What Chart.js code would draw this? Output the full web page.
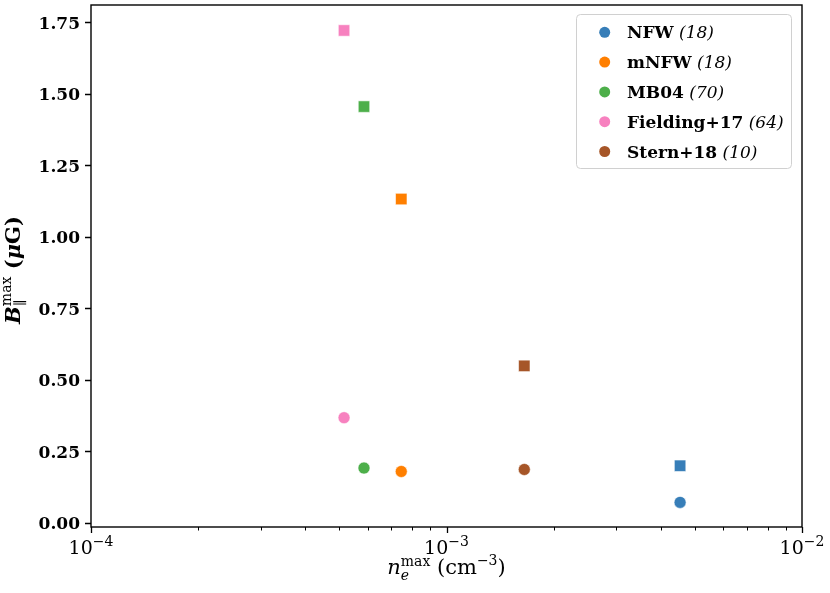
<!DOCTYPE html>
<html>
<head>
<meta charset="utf-8">
<script src="https://cdn.jsdelivr.net/npm/chart.js@4"></script>
<style>
  html, body { margin: 0; padding: 0; background: #fff; }
  #wrap { width: 830px; height: 593px; position: relative; }
</style>
</head>
<body>
<div id="wrap"><canvas id="myChart"></canvas></div>
<script>
// models, halo counts, and the two points per model (circle and square)
var models = ["NFW", "mNFW", "MB04", "Fielding+17", "Stern+18"];
var counts = ["18", "18", "70", "64", "10"];
var neMax = [4.54e-3, 7.46e-4, 5.86e-4, 5.15e-4, 1.655e-3];
var bCircle = [0.072, 0.180, 0.192, 0.368, 0.187];
var bSquare = [0.200, 1.132, 1.455, 1.721, 0.549];
var colors = ["#377eb8", "#ff7f00", "#4daf4a", "#f781bf", "#a65628"];

var yTicks = [0, 0.25, 0.5, 0.75, 1.0, 1.25, 1.5, 1.75];
var xMajor = [1e-4, 1e-3, 1e-2];
var xExp = ["\u22124", "\u22123", "\u22122"];

var SERIF = '"DejaVu Serif", serif';

function drawPieces(ctx, pieces, x, y) {
  // pieces: {t, f, dy} or {stack: [piece, piece]}
  var cx = x;
  pieces.forEach(function (p) {
    if (p.stack) {
      var w = 0;
      p.stack.forEach(function (s) {
        ctx.font = s.f;
        ctx.fillText(s.t, cx, y + s.dy);
        w = Math.max(w, ctx.measureText(s.t).width);
      });
      cx += w;
    } else {
      ctx.font = p.f;
      ctx.fillText(p.t, cx, y + (p.dy || 0));
      cx += ctx.measureText(p.t).width;
    }
  });
  return cx - x;
}

function piecesWidth(ctx, pieces) {
  var w = 0;
  pieces.forEach(function (p) {
    if (p.stack) {
      var m = 0;
      p.stack.forEach(function (s) { ctx.font = s.f; m = Math.max(m, ctx.measureText(s.t).width); });
      w += m;
    } else {
      ctx.font = p.f;
      w += ctx.measureText(p.t).width;
    }
  });
  return w;
}

var decor = {
  id: "decor",
  afterDraw: function (chart) {
    var ctx = chart.ctx;
    var a = chart.chartArea;
    var xs = chart.scales.x, ys = chart.scales.y;
    ctx.save();
    ctx.fillStyle = "#000";
    ctx.strokeStyle = "#000";

    // ticks
    ctx.lineWidth = 1.3;
    ctx.beginPath();
    xMajor.forEach(function (v) {
      var px = Math.round(xs.getPixelForValue(v)) + 0.5;
      ctx.moveTo(px, a.bottom); ctx.lineTo(px, a.bottom + 6);
    });
    yTicks.forEach(function (v) {
      var py = Math.round(ys.getPixelForValue(v)) + 0.5;
      ctx.moveTo(a.left, py); ctx.lineTo(a.left - 6, py);
    });
    ctx.stroke();
    ctx.lineWidth = 1;
    ctx.beginPath();
    [1e-4, 1e-3].forEach(function (d) {
      for (var k = 2; k <= 9; k++) {
        var px = Math.round(xs.getPixelForValue(k * d)) + 0.5;
        ctx.moveTo(px, a.bottom); ctx.lineTo(px, a.bottom + 3.5);
      }
    });
    ctx.stroke();

    // frame
    ctx.lineWidth = 1.4;
    ctx.strokeRect(a.left, a.top, a.right - a.left, a.bottom - a.top);

    // y tick labels
    ctx.font = "bold 17px " + SERIF;
    ctx.textAlign = "right";
    ctx.textBaseline = "alphabetic";
    yTicks.forEach(function (v) {
      ctx.fillText(v.toFixed(2), a.left - 11, ys.getPixelForValue(v) + 6.5);
    });

    // x tick labels 10^n
    ctx.textAlign = "left";
    xMajor.forEach(function (v, i) {
      var p = [{ t: "10", f: "19px " + SERIF }, { t: xExp[i], f: "14px " + SERIF, dy: -8 }];
      var w = piecesWidth(ctx, p);
      drawPieces(ctx, p, xs.getPixelForValue(v) - w / 2, 554);
    });

    // x title
    var xt = [
      { t: "n", f: "italic 21px " + SERIF },
      { stack: [{ t: "max", f: "14px " + SERIF, dy: -8 }, { t: "e", f: "italic 14px " + SERIF, dy: 6 }] },
      { t: " (cm", f: "21px " + SERIF },
      { t: "\u22123", f: "14px " + SERIF, dy: -9 },
      { t: ")", f: "21px " + SERIF }
    ];
    var xw = piecesWidth(ctx, xt);
    drawPieces(ctx, xt, (a.left + a.right) / 2 - xw / 2, 574);

    // y title, rotated
    var yt = [
      { t: "B", f: "bold italic 21px " + SERIF },
      { stack: [{ t: "max", f: "14px " + SERIF, dy: -9 }, { t: "\u2225", f: "14px " + SERIF, dy: 5 }] },
      { t: " (", f: "bold 21px " + SERIF },
      { t: "\u03bc", f: "bold italic 21px " + SERIF },
      { t: "G)", f: "bold 21px " + SERIF }
    ];
    var yw = piecesWidth(ctx, yt);
    ctx.save();
    ctx.translate(20, (a.top + a.bottom) / 2 + 4);
    ctx.rotate(-Math.PI / 2);
    drawPieces(ctx, yt, -yw / 2, 0);
    ctx.restore();

    // legend
    var lx = 576.5, ly = 14.5, lw = 215, lh = 154, r = 4;
    ctx.beginPath();
    ctx.moveTo(lx + r, ly);
    ctx.arcTo(lx + lw, ly, lx + lw, ly + lh, r);
    ctx.arcTo(lx + lw, ly + lh, lx, ly + lh, r);
    ctx.arcTo(lx, ly + lh, lx, ly, r);
    ctx.arcTo(lx, ly, lx + lw, ly, r);
    ctx.closePath();
    ctx.fillStyle = "rgba(255,255,255,0.8)";
    ctx.fill();
    ctx.strokeStyle = "#d0d0d0";
    ctx.lineWidth = 1;
    ctx.stroke();
    models.forEach(function (m, i) {
      var cy = 32.3 + i * 29.8;
      ctx.fillStyle = colors[i];
      ctx.beginPath();
      ctx.arc(604.7, cy, 5.5, 0, Math.PI * 2);
      ctx.fill();
      ctx.fillStyle = "#000";
      drawPieces(ctx, [
        { t: m, f: "bold 17px " + SERIF },
        { t: " (" + counts[i] + ")", f: "italic 17px " + SERIF }
      ], 627, cy + 6);
    });
    ctx.restore();
  }
};

var datasets = models.map(function (m, i) {
  return {
    label: m + " (" + counts[i] + ")",
    data: [{ x: neMax[i], y: bCircle[i] }, { x: neMax[i], y: bSquare[i] }],
    backgroundColor: colors[i],
    borderColor: "rgba(255,255,255,0.7)",
    borderWidth: 0.8,
    pointStyle: ["circle", "rect"],
    pointRadius: [6, 8.1],
    pointHoverRadius: [6, 8.1]
  };
});

var ctx = document.getElementById("myChart").getContext("2d");
var chart = new Chart(ctx, {
  type: "scatter",
  data: { datasets: datasets },
  options: {
    responsive: true,
    maintainAspectRatio: false,
    animation: false,
    layout: { autoPadding: false, padding: { left: 91, right: 28, top: 5, bottom: 66 } },
    plugins: { legend: { display: false }, tooltip: { enabled: false } },
    scales: {
      x: { type: "logarithmic", min: 1e-4, max: 1e-2, display: false },
      y: { type: "linear", min: -0.014, max: 1.81, display: false }
    }
  },
  plugins: [decor]
});
</script>
</body>
</html>
